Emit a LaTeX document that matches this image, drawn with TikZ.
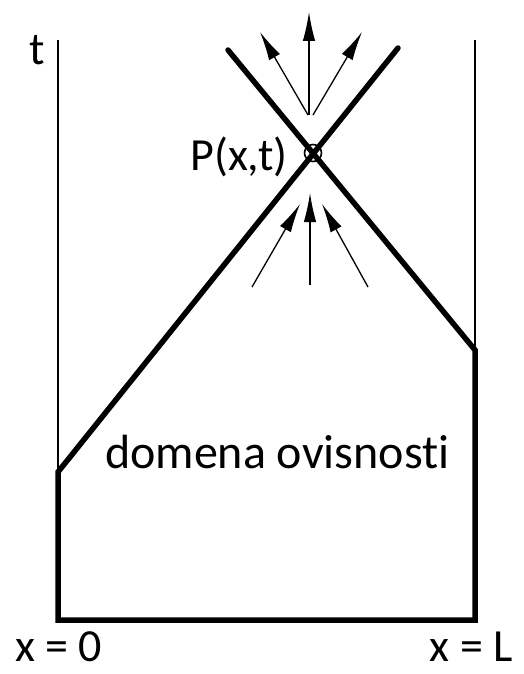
\documentclass[tikz,border=0pt]{standalone}
\usepackage{fontspec}
\setmainfont{Carlito}[Ligatures={NoCommon}]
\usetikzlibrary{arrows.meta}
\begin{document}
\begin{tikzpicture}[x=1pt,y=-1pt,
  thickline/.style={line width=5.5pt,line join=miter,line cap=round},
  thinline/.style={line width=1.3pt},
  ray/.style={line width=1.3pt,-{Latex[length=29pt,width=12.5pt]}},
  lbl/.style={inner sep=0pt,font=\fontsize{46}{54}\selectfont}]
\useasboundingbox (0,0) rectangle (523,674);
% coordinates
\coordinate (BL) at (58,620);
\coordinate (BR) at (475,620);
\coordinate (LC) at (58,472);
\coordinate (RC) at (475,350);
\coordinate (P) at (313,153);
\coordinate (LE) at (398,48);
\coordinate (RE) at (228,50);
\coordinate (LT) at (58,40);
\coordinate (RT) at (475,40);
% thin vertical boundaries
\draw[thinline] (LT) -- (LC);
\draw[thinline] (RT) -- (RC);
% domain of dependence
\draw[thickline] (LE) -- (LC) -- (BL) -- (BR) -- (RC) -- (RE);
% point P
\node[draw,circle,line width=1.6pt,minimum size=17pt,inner sep=0pt] (Pc) at (P) {};
% outgoing arrows
\coordinate (u0) at (309,115);
\coordinate (u1) at (309,12);
\coordinate (ul0) at (308,115);
\coordinate (ul1) at (260,32);
\coordinate (ur0) at (313,115);
\coordinate (ur1) at (362,32);
\draw[ray] (u0) -- (u1);
\draw[ray] (ul0) -- (ul1);
\draw[ray] (ur0) -- (ur1);
% incoming arrows
\coordinate (d0) at (310,285);
\coordinate (d1) at (310,193);
\coordinate (dl0) at (252,287);
\coordinate (dl1) at (300,204);
\coordinate (dr0) at (368,287);
\coordinate (dr1) at (322,204);
\draw[ray] (d0) -- (d1);
\draw[ray] (dl0) -- (dl1);
\draw[ray] (dr0) -- (dr1);
% labels
\node[lbl,anchor=base] (tlab) at (37,65) {t};
\node[lbl,anchor=base east] (plab) at (288,170) {P(x,t)};
\node[lbl,anchor=base west,font=\fontsize{48}{56}\selectfont] (dom) at (105,468) {domena ovisnosti};
\node[lbl,anchor=base west] (x0) at (15,661) {x = 0};
\node[lbl,anchor=base east] (xL) at (513,661) {x = L};
\end{tikzpicture}
\end{document}
